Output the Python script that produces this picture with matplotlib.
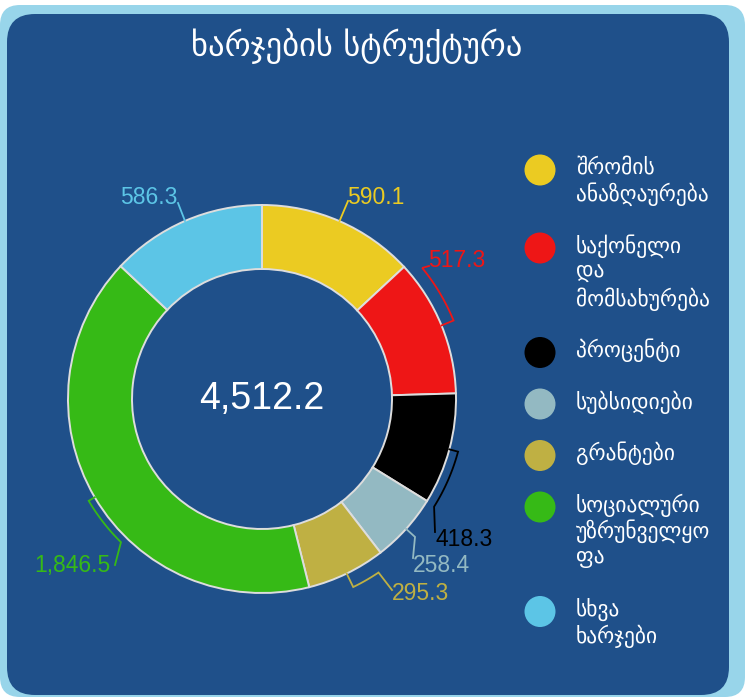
import numpy as np
import matplotlib
matplotlib.use("Agg")
import matplotlib.pyplot as plt
from matplotlib.patches import FancyBboxPatch, Circle, Rectangle

# ---------------- data ----------------
title = "ხარჯების სტრუქტურა"
categories = ["შრომის ანაზღაურება", "საქონელი და მომსახურება", "პროცენტი",
              "სუბსიდიები", "გრანტები", "სოციალური უზრუნველყოფა", "სხვა ხარჯები"]
legend_lines = [["შრომის", "ანაზღაურება"],
                ["საქონელი", "და", "მომსახურება"],
                ["პროცენტი"],
                ["სუბსიდიები"],
                ["გრანტები"],
                ["სოციალური", "უზრუნველყო", "ფა"],
                ["სხვა", "ხარჯები"]]
values = [590.1, 517.3, 418.3, 258.4, 295.3, 1846.5, 586.3]
colors = ["#EBCB22", "#EE1616", "#000000", "#93B9C2", "#BFB043", "#36BA16", "#5CC5E6"]
label_colors = ["#EBCB22", "#EE1616", "#000000", "#93B9C2", "#BFB043", "#36BA16", "#5CC5E6"]

NUM_FONT = ["Liberation Sans", "DejaVu Sans"]
GEO_FONT = ["DejaVu Sans"]
PANEL = "#1F508A"

W, H = 747, 697
fig = plt.figure(figsize=(W / 100, H / 100), dpi=100)
fig.patch.set_facecolor("white")
ax = fig.add_axes([0, 0, 1, 1])

# frame panels
ax.add_patch(FancyBboxPatch((0 + 20, 5 + 20), 745 - 40, 692 - 40,
                            boxstyle="round,pad=20", fc="#98D5EA", ec="none", zorder=0))
ax.add_patch(FancyBboxPatch((7 + 28, 14 + 28), 722 - 56, 681 - 56,
                            boxstyle="round,pad=28", fc=PANEL, ec="none", zorder=1))

cx, cy, R, ring = 262, 399, 194, 64

ax.pie(values, colors=colors, startangle=-90, counterclock=True,
       center=(cx, cy), radius=R,
       wedgeprops=dict(width=ring, edgecolor="#DDDDDD", linewidth=1.4, zorder=3))

# total
total = sum(values)
ax.text(cx, cy, f"{total:,.1f}", color="white", fontsize=27, family=NUM_FONT,
        ha="center", va="center", zorder=5)

# leader lines (layout): outer radius of bracket, sweep (deg), label anchor, ha
layout = [
    (0, 0, (348, 201), "left"),
    (207, -17, (429, 266), "left"),
    (203, 17, (435, 532), "left"),
    (206, 0, (413, 558), "left"),
    (209, -8, (392, 590), "left"),
    (201, -15, (115, 565), "right"),
    (0, 0, (178, 203), "right"),
]
text_base = [(347, 204), (428, 267), (435, 546), (413, 572), (392, 600), (111, 572), (177, 204)]

cum = np.cumsum([0] + values)
for i, v in enumerate(values):
    mid = (cum[i] + cum[i + 1]) / 2 / total * 360.0
    th = np.deg2rad(mid)
    pts = [(cx + R * np.sin(th), cy - R * np.cos(th))]
    rout, sweep, anchor, ha = layout[i]
    if rout:
        angs = np.deg2rad(np.linspace(mid, mid + sweep, 20))
        for a in angs:
            pts.append((cx + rout * np.sin(a), cy - rout * np.cos(a)))
    pts.append(anchor)
    xs, ys = zip(*pts)
    ax.plot(xs, ys, color=label_colors[i], lw=1.3, zorder=4, solid_joinstyle="miter")
    ax.text(text_base[i][0], text_base[i][1], f"{v:,.1f}", color=label_colors[i],
            fontsize=16.5, family=NUM_FONT, ha=ha, va="baseline", zorder=5)

# title
ax.text(357, 46, title, color="white", fontsize=23.5, family=GEO_FONT,
        ha="center", va="center", zorder=5)

# legend
lh, gap = 26.5, 25
y = 170
for i, lines in enumerate(legend_lines):
    ax.add_patch(Circle((540, y), 15.5, fc=colors[i], ec="none", zorder=5))
    for j, ln in enumerate(lines):
        ax.text(576, y - 2 + j * lh, ln, color="white", fontsize=15.5, family=GEO_FONT,
                ha="left", va="center", zorder=5)
    y += len(lines) * lh + gap
# legend text is cut off at the right edge of its area
ax.add_patch(Rectangle((712, 130), 17, 520, fc=PANEL, ec="none", zorder=6))

ax.set_xlim(0, W)
ax.set_ylim(H, 0)
ax.set_aspect("auto")
ax.axis("off")
fig.savefig("out.png", dpi=100, facecolor="white")
